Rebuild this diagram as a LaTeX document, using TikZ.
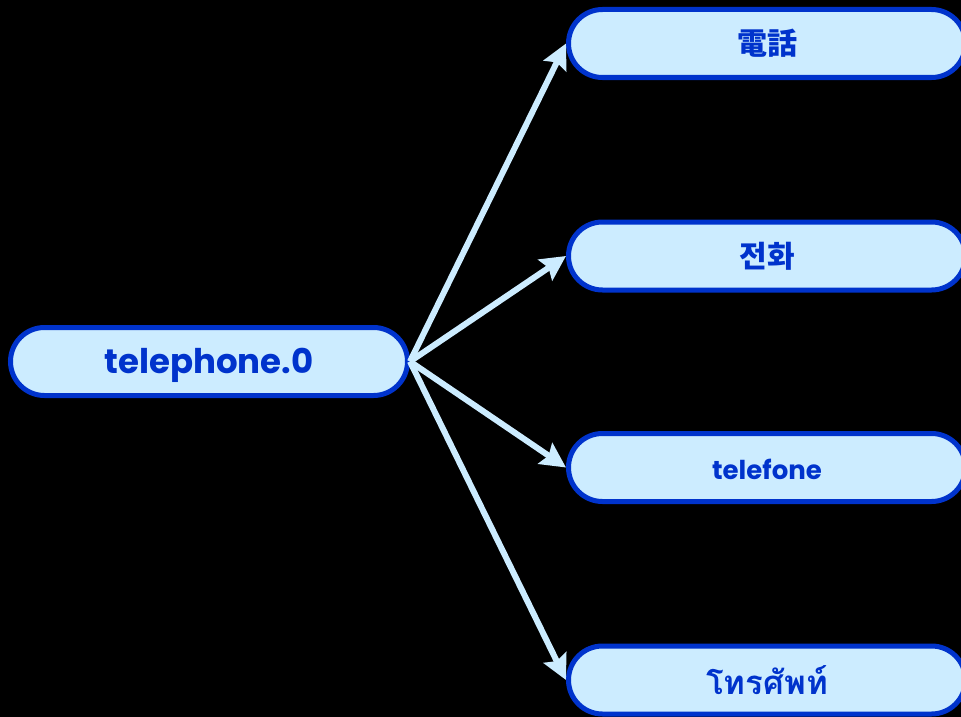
\documentclass[tikz,border=0pt]{standalone}
\usepackage{fontspec}
\setmainfont{Poppins}
\newfontfamily\jpfont{Noto Sans CJK JP}
\newfontfamily\krfont{Noto Sans CJK KR}
\newfontfamily\thaifont[Script=Thai]{Loma}
\usetikzlibrary{arrows.meta}
\definecolor{nodefill}{RGB}{204,236,255}
\definecolor{nodeedge}{RGB}{0,51,204}
\begin{document}
\begin{tikzpicture}[x=1pt,y=-1pt,
  pill/.style={draw=nodeedge, fill=nodefill, line width=5pt, rounded corners=34pt,
    minimum width=397pt, minimum height=68pt, inner sep=0pt, text=nodeedge, font=\bfseries},
  latin/.style={text height=24pt, text depth=0pt},
  link/.style={draw=nodefill, line width=6pt,
    -{Stealth[length=25pt,width=25pt,inset=4pt]}}]
\fill[black] (0,0) rectangle (961,717);
\useasboundingbox (0,0) rectangle (961,717);
\node[pill, latin] (src) at (209,361.5) {\fontsize{34}{40}\selectfont telephone.0};
\node[pill] (ja) at (767,43.5) {\jpfont\fontsize{30}{36}\selectfont\bfseries 電話};
\node[pill] (ko) at (767,256) {\krfont\fontsize{30}{36}\selectfont\bfseries 전화};
\node[pill, latin] (pt) at (767,467.5) {\fontsize{26}{31}\selectfont telefone};
\node[pill] (th) at (767,680) {\thaifont\fontsize{33}{39}\selectfont\bfseries โทรศัพท์};
\draw[link] (src.east) -- (ja.west);
\draw[link] (src.east) -- (ko.west);
\draw[link] (src.east) -- (pt.west);
\draw[link] (src.east) -- (th.west);
\end{tikzpicture}
\end{document}
